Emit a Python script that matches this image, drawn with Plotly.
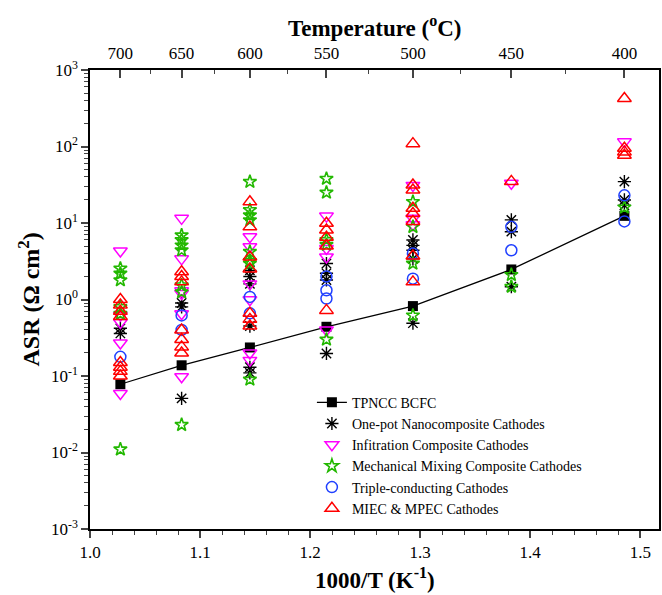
import plotly.graph_objects as go

# ---------------- data (temperature in degC, ASR in Ohm cm^2) ----------------
tpncc_T = [700, 650, 600, 550, 500, 450, 400]
tpncc_asr = [0.078, 0.138, 0.236, 0.44, 0.82, 2.47, 12.4]

onepot_T = [700, 700, 650, 650, 650, 600, 600, 600, 600, 600, 600,
            550, 550, 550, 550, 500, 500, 500, 500, 500, 450, 450, 450, 400, 400, 400]
onepot_asr = [0.42, 0.36, 0.90, 0.80, 0.051, 2.4, 2.0, 1.6, 0.45, 0.13, 0.11,
              2.95, 2.2, 1.8, 0.197, 6.0, 5.1, 4.4, 3.4, 0.49, 11, 7.7, 1.47, 34.7, 20, 17]

infil_T = [700, 700, 700, 700, 700, 650, 650, 650, 650, 650, 650,
           600, 600, 600, 600, 600, 600, 550, 550, 550, 550, 500, 500, 500, 450, 400]
infil_asr = [4.3, 0.62, 0.50, 0.27, 0.059, 11.5, 3.4, 1.3, 1.2, 0.65, 0.098,
             6.6, 4.9, 1.6, 0.99, 0.2, 0.16, 12.3, 4.65, 3.6, 0.4, 31, 11.5, 9.5, 33, 115]

mech_T = [700, 700, 700, 700, 700, 700, 650, 650, 650, 650, 650, 650, 650,
          600, 600, 600, 600, 600, 600, 600, 600, 550, 550, 550, 550, 550,
          500, 500, 500, 500, 450, 450, 400]
mech_asr = [2.55, 2.19, 1.79, 0.80, 0.65, 0.011, 6.9, 6.0, 5.1, 4.4, 1.54, 1.25, 0.023,
            34.6, 14.8, 12.6, 10.9, 4.2, 3.2, 2.95, 0.09, 38, 25, 6.0, 5.2, 0.30,
            18.9, 8.9, 2.95, 0.62, 2.1, 1.47, 16]

triple_T = [700, 650, 650, 600, 600, 550, 550, 550, 500, 500, 450, 450, 400, 400]
triple_asr = [0.178, 0.62, 0.40, 1.08, 0.66, 2.0, 1.32, 1.03, 4.0, 1.87, 8.9, 4.4, 23, 10.5]

miec_T = [700, 700, 700, 700, 700, 700, 700, 700, 650, 650, 650, 650, 650, 650, 650,
          600, 600, 600, 600, 600, 600, 600, 550, 550, 550, 550, 550,
          500, 500, 500, 500, 500, 500, 500, 500, 450, 400, 400, 400, 400]
miec_asr = [1.0, 0.85, 0.7, 0.6, 0.15, 0.13, 0.115, 0.10, 2.3, 2.0, 1.7, 0.40, 0.30, 0.24, 0.20,
            18.9, 8.9, 3.6, 2.5, 0.66, 0.45, 0.55, 9.9, 8.1, 6.5, 5.0, 0.72,
            109, 31.4, 27, 15.6, 13.3, 10.5, 3.7, 1.7, 35, 425, 95, 77, 85]

top_temps = [700, 650, 600, 550, 500, 450, 400]
top_minor_temps = [675, 625, 575, 525, 475, 425]
y_tickvals = [1e-3, 1e-2, 1e-1, 1, 10, 100, 1000]
y_ticktext = ["10<sup>-3</sup>", "10<sup>-2</sup>", "10<sup>-1</sup>", "10<sup>0</sup>",
              "10<sup>1</sup>", "10<sup>2</sup>", "10<sup>3</sup>"]


def inv(temps):
    return [1000.0 / (t + 273.15) for t in temps]


FONT = "Liberation Serif, Times New Roman, serif"
fig = go.Figure()

fig.add_trace(go.Scatter(x=inv(tpncc_T), y=tpncc_asr, mode="lines+markers", name="TPNCC BCFC",
                         line=dict(color="black", width=1.3),
                         marker=dict(symbol="square", size=10, color="black")))
fig.add_trace(go.Scatter(x=inv(onepot_T), y=onepot_asr, mode="markers",
                         name="One-pot Nanocomposite Cathodes",
                         marker=dict(symbol="asterisk-open", size=11, color="black",
                                     line=dict(color="black", width=1.4))))
fig.add_trace(go.Scatter(x=inv(infil_T), y=infil_asr, mode="markers",
                         name="Infitration Composite Cathodes",
                         marker=dict(symbol="triangle-down-open", size=12, color="#FF00FF",
                                     line=dict(width=1.5))))
fig.add_trace(go.Scatter(x=inv(mech_T), y=mech_asr, mode="markers",
                         name="Mechanical Mixing Composite Cathodes",
                         marker=dict(symbol="star-open", size=10, color="#22B800",
                                     line=dict(width=1.6))))
fig.add_trace(go.Scatter(x=inv(triple_T), y=triple_asr, mode="markers",
                         name="Triple-conducting Cathodes",
                         marker=dict(symbol="circle-open", size=11, color="#2040FF",
                                     line=dict(width=1.5))))
fig.add_trace(go.Scatter(x=inv(miec_T), y=miec_asr, mode="markers",
                         name="MIEC & MPEC Cathodes",
                         marker=dict(symbol="triangle-up-open", size=12, color="#FF0000",
                                     line=dict(width=1.5))))
# invisible trace to anchor the top temperature axis
fig.add_trace(go.Scatter(x=inv(top_temps), y=[1] * len(top_temps), xaxis="x2", mode="markers",
                         marker=dict(opacity=0), showlegend=False, hoverinfo="skip"))

XR = [1.0, 1.517]
fig.update_layout(
    width=662, height=595,
    margin=dict(l=90, r=3, t=70, b=66),
    paper_bgcolor="white", plot_bgcolor="white",
    font=dict(family=FONT, size=17, color="black"),
    showlegend=True,
    legend=dict(x=0.39, y=0.310, xanchor="left", yanchor="top",
                bgcolor="rgba(0,0,0,0)", font=dict(size=14, family=FONT),
                tracegroupgap=0, itemwidth=30),
    xaxis=dict(range=XR, automargin=False, showline=True, linecolor="black", linewidth=1.5,
               showgrid=False, zeroline=False, ticks="outside", ticklen=7, tickwidth=1.5,
               tickvals=[1.0, 1.1, 1.2, 1.3, 1.4, 1.5],
               ticktext=["1.0", "1.1", "1.2", "1.3", "1.4", "1.5"],
               minor=dict(dtick=0.02, tick0=1.0, ticks="outside", ticklen=4, tickwidth=1.2,
                          showgrid=False),
               tickfont=dict(size=17)),
    xaxis2=dict(range=XR, automargin=False, overlaying="x", side="top", anchor="y",
                showline=True, linecolor="black", linewidth=1.5,
                showgrid=False, zeroline=False, ticks="inside", ticklen=8, tickwidth=1.5,
                tickvals=inv(top_temps), ticktext=[str(t) for t in top_temps],
                ticklabelstandoff=2,
                minor=dict(tickvals=inv(top_minor_temps), ticks="inside", ticklen=4,
                           tickwidth=1.2, showgrid=False),
                tickfont=dict(size=17)),
    yaxis=dict(type="log", range=[-3, 3], automargin=False, showline=True, linecolor="black",
               linewidth=1.5, mirror=True, showgrid=False, zeroline=False,
               ticks="outside", ticklen=7, tickwidth=1.5,
               tickvals=y_tickvals, ticktext=y_ticktext,
               minor=dict(dtick="D1", ticks="outside", ticklen=4, tickwidth=1.2, showgrid=False),
               tickfont=dict(size=17)),
    annotations=[
        dict(text="<b>1000/T (K<sup>-1</sup>)</b>", xref="paper", yref="paper",
             x=0.5, y=-0.108, xanchor="center", yanchor="middle", showarrow=False,
             font=dict(size=23, family=FONT, color="black")),
        dict(text="<b>Temperature (<sup>o</sup>C)</b>", xref="paper", yref="paper",
             x=0.5, y=1.0 + 44.0 / 459, xanchor="center", yanchor="middle", showarrow=False,
             font=dict(size=23, family=FONT, color="black")),
        dict(text="<b>ASR (\u03a9 cm<sup>2</sup>)</b>", xref="paper", yref="paper",
             x=-62.0 / 569, y=0.5, xanchor="center", yanchor="middle", showarrow=False,
             textangle=-90, font=dict(size=24, family=FONT, color="black")),
    ],
)

fig.write_html("out.html", config={"displayModeBar": False},
               post_script="document.body.style.margin='0';")
